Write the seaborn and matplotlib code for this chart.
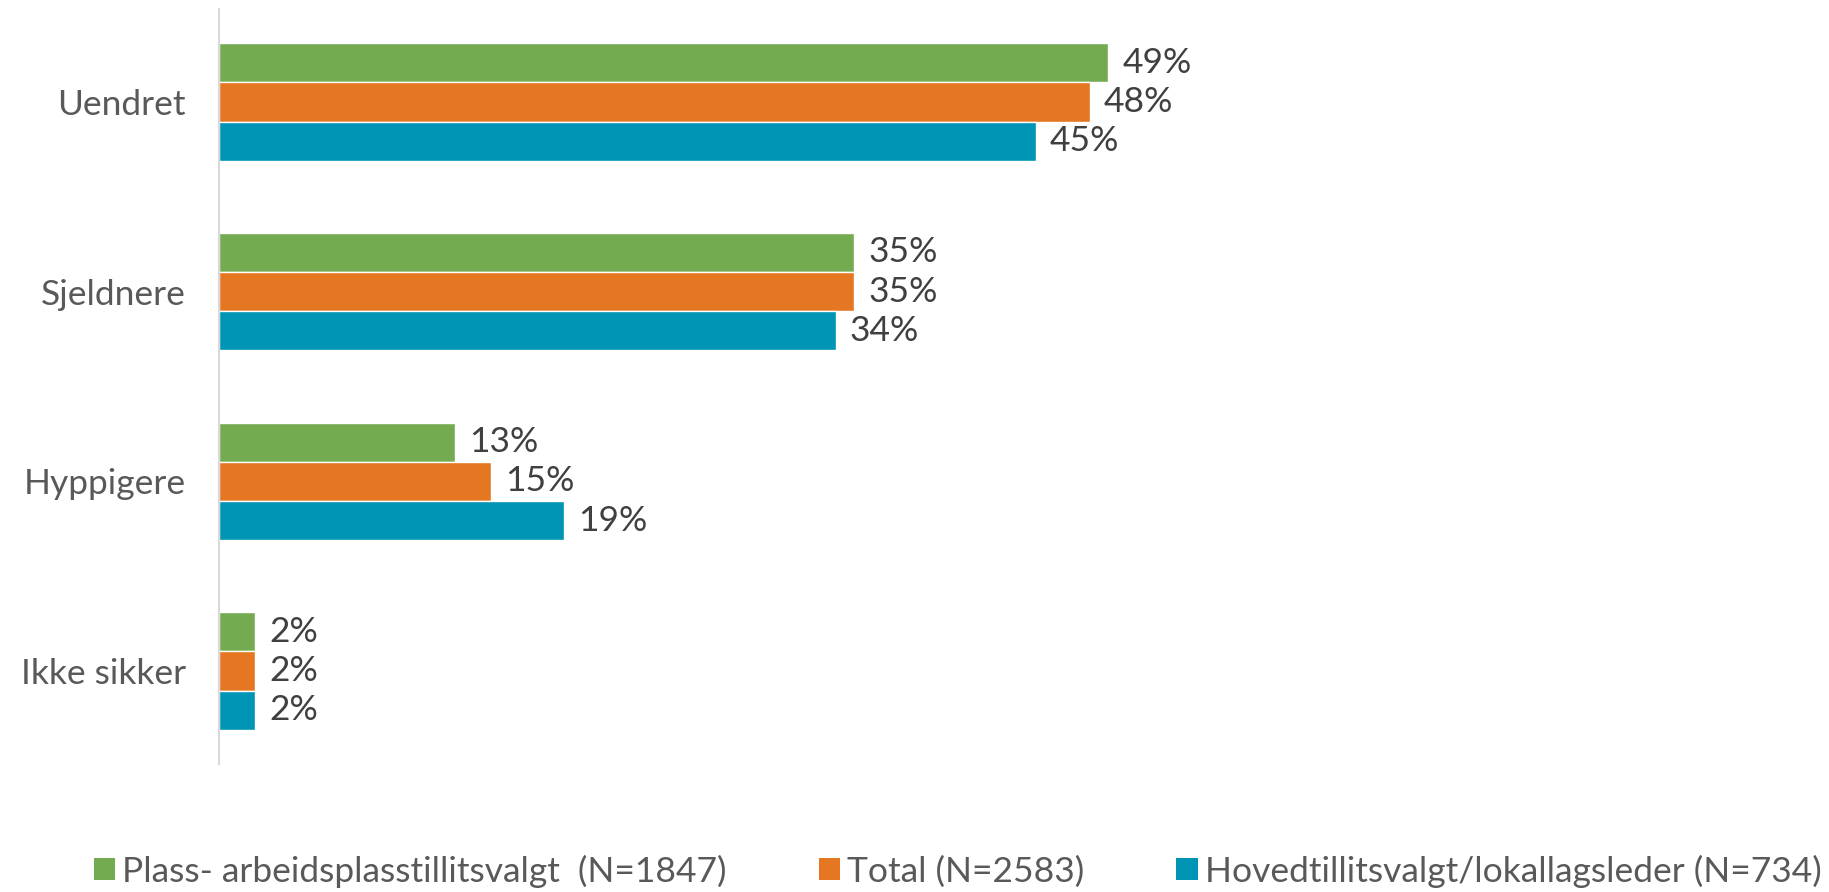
import matplotlib
matplotlib.use("Agg")
import matplotlib.pyplot as plt
import seaborn as sns
import pandas as pd
from matplotlib.patches import Patch

categories = ["Uendret", "Sjeldnere", "Hyppigere", "Ikke sikker"]
series = ["Plass- arbeidsplasstillitsvalgt  (N=1847)", "Total (N=2583)",
          "Hovedtillitsvalgt/lokallagsleder (N=734)"]
plass = [49, 35, 13, 2]
total = [48, 35, 15, 2]
hoved = [45, 34, 19, 2]
colors = ["#75AB50", "#E67722", "#0094B5"]

rows = []
for s, vals in zip(series, [plass, total, hoved]):
    for c, v in zip(categories, vals):
        rows.append({"cat": c, "series": s, "value": v})
df = pd.DataFrame(rows)

sns.set_theme(style="white")
plt.rcParams["font.family"] = ["Lato", "DejaVu Sans"]

fig = plt.figure(figsize=(18.29, 8.92), dpi=100)
ax = fig.add_axes([219 / 1829, 1 - 764 / 892, (1829 - 219) / 1829, 755 / 892])

sns.barplot(data=df, y="cat", x="value", hue="series", order=categories,
            hue_order=series, palette=colors, orient="h", width=0.62,
            saturation=1, ax=ax, legend=False, errorbar=None)

for cont in ax.containers:
    ax.bar_label(cont, labels=[f"{int(round(b.get_width()))}%" for b in cont],
                 padding=10, fontsize=25.5, color="#404040")

ax.set_xlim(0, (1829 - 219) / 18.15)
ax.set_ylim(3.49, -0.49)
ax.set_xlabel("")
ax.set_ylabel("")
ax.set_xticks([])
ax.tick_params(axis="y", length=0, pad=24, labelsize=25.5, labelcolor="#595959")
for sp in ["top", "right", "bottom"]:
    ax.spines[sp].set_visible(False)
ax.spines["left"].set_color("#D9D9D9")
ax.spines["left"].set_linewidth(1.5)

handles = [Patch(facecolor=c, edgecolor="none") for c in colors]
leg = fig.legend(handles, series, loc="center", bbox_to_anchor=(0.5236, 1 - 871 / 892),
                 ncol=3, frameon=False, fontsize=25.5, handlelength=0.6,
                 handleheight=0.6, handletextpad=0.2, columnspacing=2.6)
for t in leg.get_texts():
    t.set_color("#595959")

fig.savefig("out.png", dpi=100)
